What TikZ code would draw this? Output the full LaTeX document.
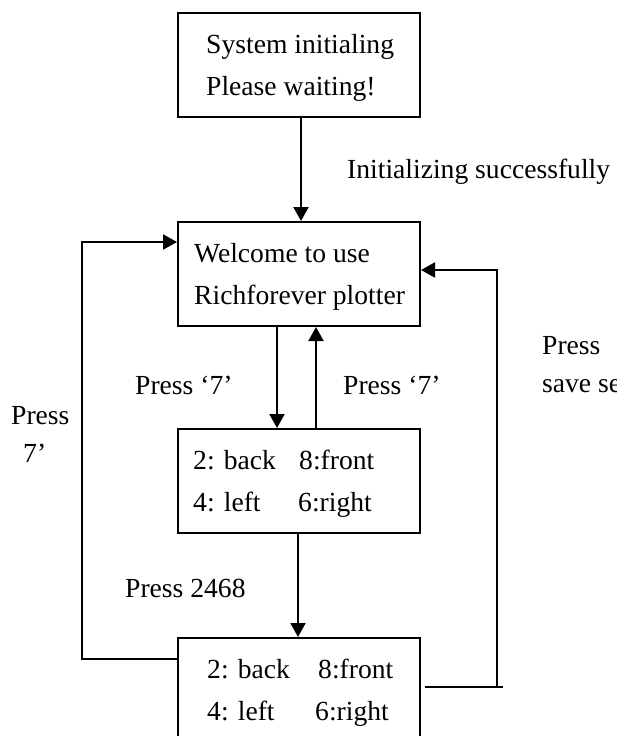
\documentclass[tikz,border=0pt]{standalone}
\usepackage{fontspec}
\setmainfont{Liberation Serif}
\usetikzlibrary{arrows.meta}
\tikzset{
  box/.style={draw, line width=2pt, minimum width=242pt, minimum height=104pt, inner sep=0pt},
  txt/.style={anchor=base west, inner sep=0pt, font=\fontsize{27.6pt}{33pt}\selectfont},
  conn/.style={line width=2pt},
  arr/.style={line width=2pt, -{Triangle[length=14pt,width=15pt]}}
}
\begin{document}
\begin{tikzpicture}[x=1pt, y=-1pt]
\useasboundingbox (0,0) rectangle (617,736);
% boxes
\node[box] (b1) at (298.5,65) {};
\node[box] (b2) at (299,274) {};
\node[box] (b3) at (299,481) {};
\node[box] (b4) at (299,690) {};
% box texts
\node[txt] (t1a) at (206,53) {System initialing};
\node[txt] (t1b) at (206,95) {Please waiting!};
\node[txt] (t2a) at (194,262) {Welcome to use};
\node[txt] (t2b) at (194,304) {Richforever plotter};
\node[txt] (t3a) at (193,469) {2: back};
\node[txt] (t3b) at (299,469) {8:front};
\node[txt] (t3c) at (193,511) {4: left};
\node[txt] (t3d) at (298,511) {6:right};
\node[txt] (t4a) at (207,678) {2: back};
\node[txt] (t4b) at (318,678) {8:front};
\node[txt] (t4c) at (207,720) {4: left};
\node[txt] (t4d) at (315,720) {6:right};
% labels
\node[txt] (l1) at (347,178) {Initializing successfully};
\node[txt] (l2) at (135,394) {Press ‘7’};
\node[txt] (l3) at (343,394) {Press ‘7’};
\node[txt] (l4) at (11,424) {Press};
\node[txt] (l5) at (23,462) {7’};
\node[txt] (l6) at (542,354) {Press};
\node[txt] (l7) at (542,392) {save se};
\node[txt] (l8) at (125,597) {Press 2468};
% vertical connectors
\draw[arr] ([xshift=2.5pt]b1.south) -- ([xshift=2pt]b2.north);
\draw[arr] ([xshift=-22pt]b2.south) -- ([xshift=-22pt]b3.north);
\draw[arr] ([xshift=17pt]b3.north) -- ([xshift=17pt]b2.south);
\draw[arr] ([xshift=-1pt]b3.south) -- ([xshift=-1pt]b4.north);
% left loop
\coordinate (lc) at (82,659);
\draw[arr] ([yshift=31pt]b4.west) -- (lc) |- ([yshift=32pt]b2.west);
% right loop
\coordinate (rc0) at (497,687);
\coordinate (rc1) at (503,687);
\draw[conn] ([xshift=4pt,yshift=3pt]b4.east) -- (rc1);
\draw[arr] (rc0) |- ([yshift=4pt]b2.east);
\end{tikzpicture}
\end{document}
